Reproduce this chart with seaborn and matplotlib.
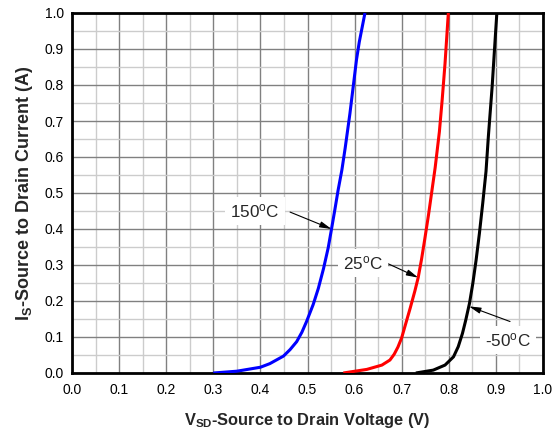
import matplotlib
matplotlib.use("Agg")
import matplotlib.pyplot as plt
from matplotlib.ticker import MultipleLocator
import numpy as np
import pandas as pd
import seaborn as sns

# Source-drain diode forward characteristics at three junction temperatures
v_150 = [0.300, 0.350, 0.400, 0.420, 0.449, 0.463, 0.477, 0.488, 0.498, 0.512, 0.523, 0.534,
         0.544, 0.551, 0.558, 0.565, 0.573, 0.580, 0.590, 0.597, 0.604, 0.610, 0.616, 0.622]
i_150 = [0.000, 0.005, 0.016, 0.026, 0.047, 0.065, 0.087, 0.113, 0.143, 0.190, 0.235, 0.290,
         0.348, 0.400, 0.453, 0.508, 0.564, 0.625, 0.720, 0.795, 0.870, 0.920, 0.960, 1.000]

v_25 = [0.576, 0.626, 0.658, 0.675, 0.684, 0.692, 0.700, 0.707, 0.718, 0.728, 0.735, 0.742,
        0.749, 0.757, 0.764, 0.771, 0.780, 0.786, 0.792, 0.799]
i_25 = [0.000, 0.010, 0.022, 0.036, 0.052, 0.072, 0.098, 0.130, 0.180, 0.228, 0.265, 0.315,
        0.372, 0.440, 0.505, 0.570, 0.670, 0.760, 0.860, 1.000]

v_m50 = [0.730, 0.767, 0.792, 0.810, 0.820, 0.829, 0.836, 0.844, 0.851, 0.858, 0.865, 0.872,
         0.879, 0.884, 0.892, 0.897, 0.902]
i_m50 = [0.000, 0.008, 0.022, 0.045, 0.073, 0.110, 0.147, 0.194, 0.249, 0.314, 0.388, 0.471,
         0.560, 0.657, 0.795, 0.898, 1.000]

temps = ["150", "25", "-50"]
tick_labels = ["0.0", "0.1", "0.2", "0.3", "0.4", "0.5", "0.6", "0.7", "0.8", "0.9", "1.0"]

df = pd.concat([
    pd.DataFrame({"V": v_150, "I": i_150, "T": temps[0]}),
    pd.DataFrame({"V": v_25, "I": i_25, "T": temps[1]}),
    pd.DataFrame({"V": v_m50, "I": i_m50, "T": temps[2]}),
], ignore_index=True)

sns.set_style("white")
plt.rcParams["font.family"] = ["Liberation Sans", "DejaVu Sans"]
plt.rcParams["mathtext.fontset"] = "custom"
plt.rcParams["mathtext.rm"] = "Liberation Sans"
plt.rcParams["mathtext.bf"] = "Liberation Sans:bold"
plt.rcParams["mathtext.it"] = "Liberation Sans:italic"

fig = plt.figure(figsize=(5.59, 4.37), dpi=100)
ax = fig.add_axes([72 / 559, 1 - 373 / 437, 471 / 559, 360 / 437])

sns.lineplot(data=df, x="V", y="I", hue="T", sort=False, estimator=None,
             palette={"150": "#0000ff", "25": "#ff0000", "-50": "#000000"},
             linewidth=2.2, legend=False, ax=ax, zorder=3)
for ln in ax.get_lines():
    ln.set_solid_joinstyle("round")
    ln.set_solid_capstyle("butt")

ax.set_xlim(0, 1.0)
ax.set_ylim(0, 1.0)
ticks = np.arange(len(tick_labels)) / 10
ax.set_xticks(ticks)
ax.set_xticklabels(tick_labels)
ax.set_yticks(ticks)
ax.set_yticklabels(tick_labels)
ax.xaxis.set_minor_locator(MultipleLocator(0.05))
ax.yaxis.set_minor_locator(MultipleLocator(0.05))
ax.grid(which="minor", color="#cccccc", linewidth=1.0, zorder=0)
ax.grid(which="major", color="#808080", linewidth=1.0, zorder=0)
ax.set_axisbelow(True)
ax.tick_params(which="both", length=0, labelsize=10, colors="black")
ax.tick_params(axis="x", pad=7)
ax.tick_params(axis="y", pad=6)
for s in ax.spines.values():
    s.set_visible(True)
    s.set_color("black")
    s.set_linewidth(2.0)

ax.set_xlabel(r"V$_\mathbf{SD}$-Source to Drain Voltage (V)", fontsize=11.8,
              fontweight="bold", labelpad=10)
ax.set_ylabel(r"I$_\mathbf{S}$-Source to Drain Current (A)", fontsize=13,
              fontweight="bold", labelpad=7)

# Temperature callouts with arrows
callouts = [
    (r"150$^\mathrm{o}$C", (0.389, 0.450), (0.463, 0.447), (0.551, 0.400)),
    (r"25$^\mathrm{o}$C", (0.618, 0.306), (0.672, 0.303), (0.735, 0.265)),
    (r"-50$^\mathrm{o}$C", (0.926, 0.092), (0.930, 0.143), (0.843, 0.185)),
]
for txt, pos, tail, head in callouts:
    ax.annotate("", xy=head, xytext=tail,
                arrowprops=dict(arrowstyle="-|>,head_length=0.7,head_width=0.18",
                                lw=0.8, color="black", shrinkA=0, shrinkB=0),
                zorder=4)
    ax.text(pos[0], pos[1], txt, ha="center", va="center", fontsize=12.3,
            bbox=dict(boxstyle="square,pad=0.3", fc="white", ec="none"), zorder=5)

fig.savefig("out.png", dpi=100)
